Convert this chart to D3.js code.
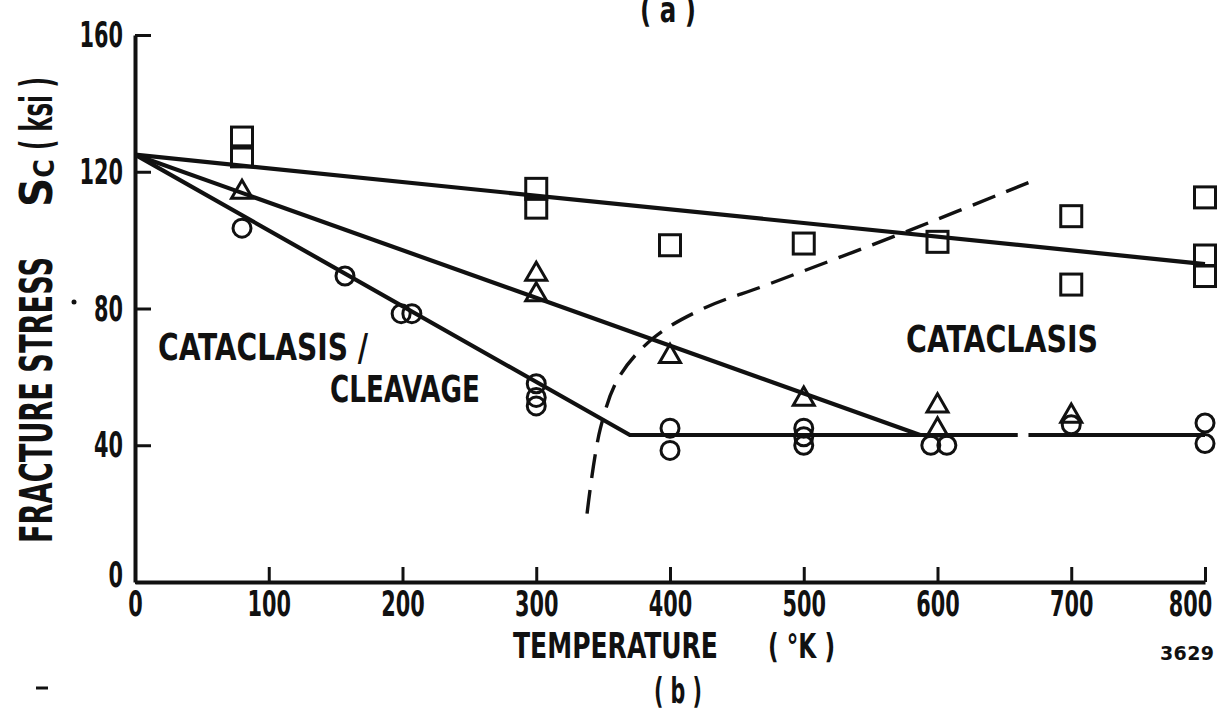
<!DOCTYPE html>
<html lang="en">
<head>
    <title>Fracture stress vs temperature</title>
    <script src="https://d3js.org/d3.v7.min.js"></script>
    <style>
        body { margin: 0; background: #fff; }
        text { font-family: "Liberation Sans Narrow", "DejaVu Sans Condensed", "Roboto Condensed", sans-serif; font-weight: bold; fill: #111; }
    </style>
</head>
<body>
<svg id="g1"></svg>
<script>

    // values (temperature in K, stress in ksi)
    const xTicks = [0, 100, 200, 300, 400, 500, 600, 700, 800];
    const yTicks = [0, 40, 80, 120, 160];

    const squares = [[80,130],[80,124.5],[300,115],[300,109.5],[400,98.5],[500,99],
                     [600,99.5],[700,107],[700,87],[800,112.5],[800,95.5],[800,89.5]];
    const triangles = [[80,114],[300,90],[300,84],[400,66],[500,53.5],[600,51.5],
                       [600,44.5],[700,48.5]];
    const circles = [[80,103.5],[157,89.5],[199,78.5],[207,78.5],[300,58],[300,54],
                     [300,51.5],[400,45],[400,38.5],[500,45],[500,42.5],[500,40],
                     [595,40],[607,40],[700,46],[800,46.5],[800,40.5]];

    const squareFit = [[0,125],[800,93]];
    const triangleFit = [[0,125],[587,43]];
    const circleFit = [[0,125],[370,43],[660,43]];
    const circleFitTail = [[668,43],[800,43]];
    const boundary = [[338,20],[348,45],[362,60],[388,71.5],[425,80],[473,87],
                      [580,103],[669,117]];

    let width = 1230, height = 709;

    let svg = d3.select("#g1")
        .attr("width", width)
        .attr("height", height);

    let x = d3.scaleLinear().domain([0, 800]).range([135, 1205]);
    let y = d3.scaleLinear().domain([0, 160]).range([582, 35]);

    // axes, ticks pointing inward
    let xAxis = svg.append("g")
        .attr("transform", `translate(0,${y(0)})`)
        .call(d3.axisBottom(x).tickValues(xTicks).tickSize(-15).tickSizeOuter(0).tickPadding(8));
    let yAxis = svg.append("g")
        .attr("transform", `translate(${x(0)},0)`)
        .call(d3.axisLeft(y).tickValues(yTicks).tickSize(-16).tickSizeOuter(0).tickPadding(12));

    [xAxis, yAxis].forEach(a => {
        a.select(".domain").attr("stroke", "#111").attr("stroke-width", 4);
        a.selectAll(".tick line").attr("stroke", "#111").attr("stroke-width", 3);
        a.selectAll(".tick text")
            .attr("font-size", 36)
            .attr("fill", "#111")
            .attr("font-family", null)
            .attr("textLength", d => String(d).length * 14.5)
            .attr("lengthAdjust", "spacingAndGlyphs");
    });
    xAxis.selectAll(".tick text").filter(d => d === 800).attr("dx", -15);
    yAxis.selectAll(".tick text").filter(d => d === 0).attr("y", -7);

    // fitted lines
    let line = d3.line().x(d => x(d[0])).y(d => y(d[1]));
    [squareFit, triangleFit, circleFit, circleFitTail].forEach(pts => {
        svg.append("path")
            .attr("d", line(pts))
            .attr("fill", "none")
            .attr("stroke", "#111")
            .attr("stroke-width", 4.2)
            .attr("stroke-linejoin", "round");
    });

    // dashed boundary between the regions
    svg.append("path")
        .attr("d", line.curve(d3.curveCatmullRom)(boundary))
        .attr("fill", "none")
        .attr("stroke", "#111")
        .attr("stroke-width", 3.4)
        .attr("stroke-dasharray", "24,12");

    // markers
    svg.append("g").selectAll("rect")
        .data(squares)
        .join("rect")
            .attr("x", d => x(d[0]) - 10.5)
            .attr("y", d => y(d[1]) - 10.5)
            .attr("width", 21)
            .attr("height", 21)
            .attr("fill", "none")
            .attr("stroke", "#111")
            .attr("stroke-width", 3);

    svg.append("g").selectAll("path")
        .data(triangles)
        .join("path")
            .attr("d", d3.symbol(d3.symbolTriangle, 190))
            .attr("transform", d => `translate(${x(d[0])},${y(d[1])})`)
            .attr("fill", "none")
            .attr("stroke", "#111")
            .attr("stroke-width", 3);

    svg.append("g").selectAll("circle")
        .data(circles)
        .join("circle")
            .attr("cx", d => x(d[0]))
            .attr("cy", d => y(d[1]))
            .attr("r", 9)
            .attr("fill", "none")
            .attr("stroke", "#111")
            .attr("stroke-width", 3);

    // region labels
    function label(txt, x0, yb, len, size) {
        return svg.append("text")
            .attr("x", x0).attr("y", yb)
            .attr("font-size", size)
            .attr("textLength", len)
            .attr("lengthAdjust", "spacingAndGlyphs")
            .text(txt);
    }
    label("CATACLASIS /", 158, 360, 210, 38);
    label("CLEAVAGE", 330, 402, 150, 38);
    label("CATACLASIS", 906, 352, 192, 38);

    // axis titles
    label("TEMPERATURE", 513, 658, 205, 35);
    label("( °K )", 768, 658, 67, 34);
    label("( b )", 654, 703, 48, 36);
    label("( a )", 640, 22, 56, 36);
    svg.append("text")
        .attr("x", 1160).attr("y", 660)
        .attr("font-size", 19)
        .style("font-family", "'DejaVu Sans', sans-serif")
        .attr("textLength", 54)
        .text("3629");

    function vlabel(txt, yb, len) {
        return svg.append("text")
            .attr("transform", `translate(52,${yb}) rotate(-90)`)
            .attr("font-size", 45)
            .attr("textLength", len)
            .attr("lengthAdjust", "spacingAndGlyphs")
            .text(txt);
    }
    vlabel("FRACTURE STRESS", 543, 286);
    let sc = svg.append("text")
        .attr("transform", `translate(52,207) rotate(-90)`)
        .attr("font-size", 45);
    sc.append("tspan").text("S");
    sc.append("tspan").attr("font-size", 28).attr("dy", 2).text("C");
    vlabel("( ksi )", 150, 73);

    // scan specks
    svg.append("circle").attr("cx", 74).attr("cy", 302).attr("r", 2.5).attr("fill", "#111");
    svg.append("line").attr("x1", 36).attr("x2", 48).attr("y1", 688).attr("y2", 688)
        .attr("stroke", "#111").attr("stroke-width", 3);

</script>
</body>
</html>
